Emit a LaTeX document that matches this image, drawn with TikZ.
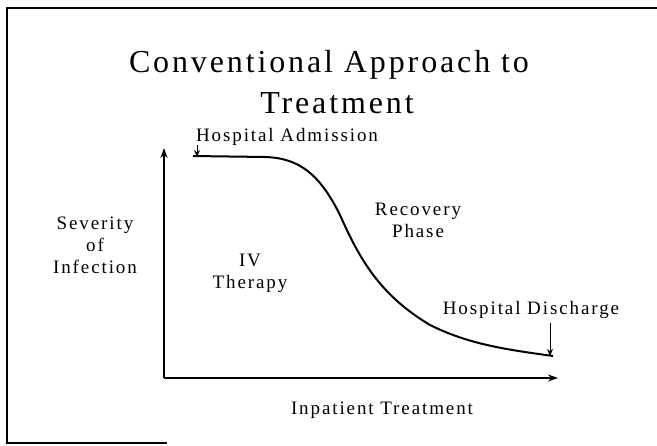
\documentclass[tikz,border=0pt]{standalone}
\usepackage{fontspec}
\setmainfont{Liberation Serif}
\newfontfamily\titlefont[LetterSpace=9]{Liberation Serif}
\newfontfamily\labelfont[LetterSpace=10]{Liberation Serif}
\usetikzlibrary{arrows.meta}
\begin{document}
\begin{tikzpicture}[x=1pt,y=-1pt,
  frameline/.style={line width=1.6pt},
  axisline/.style={line width=1.4pt,-{Stealth[length=10pt,width=7pt]}},
  curveline/.style={line width=2pt},
  pointer/.style={line width=0.9pt,-{Stealth[length=7pt,width=6pt]}},
  titletext/.style={font=\titlefont\fontsize{32}{38}\selectfont, inner sep=0pt},
  labeltext/.style={font=\labelfont\fontsize{19}{22}\selectfont, align=center, inner sep=0pt}]
\useasboundingbox (0,0) rectangle (657,446);
% frame
\draw[frameline] (657,8) -- (7,8) -- (7,443) -- (167,443);
% title
\node[titletext] (title1) at (329,65) {Conventional Approach to};
\node[titletext] (title2) at (337,103) {Treatment};
% axes
\coordinate (O) at (164,378);
\coordinate (ytop) at (164,148);
\coordinate (xend) at (558,378);
\draw[axisline] (O) -- (ytop);
\draw[axisline] (O) -- (xend);
% curve
\coordinate (adm) at (193,156);
\coordinate (dis) at (553,356);
\draw[curveline] (adm) -- (265,157) .. controls (300,158) and (320,175) .. (340,215)
  .. controls (360,260) and (380,295) .. (430,325)
  .. controls (470,345) and (510,350) .. (dis);
% labels
\node[labeltext] (admtext) at (287,137) {Hospital Admission};
\node[labeltext] (distext) at (531,310) {Hospital Discharge};
\node[labeltext] (severity) at (95,245) {Severity\\of\\Infection};
\node[labeltext] (iv) at (250,273) {IV\\Therapy};
\node[labeltext] (recovery) at (418,220) {Recovery\\Phase};
\node[labeltext] (inpatient) at (382,410) {Inpatient Treatment};
% pointers
\coordinate (admtail) at (197,145);
\coordinate (admtip) at (197,157);
\coordinate (distail) at (550,323);
\coordinate (distip) at (550,356);
\draw[pointer] (admtail) -- (admtip);
\draw[pointer] (distail) -- (distip);
\end{tikzpicture}
\end{document}
